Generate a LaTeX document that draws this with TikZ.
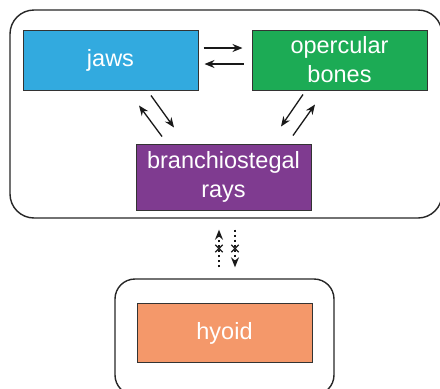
\documentclass[tikz,border=0pt]{standalone}
\usepackage{fontspec}
\setmainfont{Liberation Sans}
\usetikzlibrary{shapes,arrows.meta,positioning}

\definecolor{jawblue}{HTML}{32AADF}
\definecolor{opgreen}{HTML}{1CAB55}
\definecolor{brpurple}{HTML}{7F3B90}
\definecolor{hyorange}{HTML}{F4986A}

\begin{document}
\begin{tikzpicture}[x=1pt, y=-1pt,
    part/.style={rectangle, draw=black!80, line width=1pt, minimum width=175pt, minimum height=60pt, align=center, text=white, font=\fontsize{23.5}{29}\selectfont},
    group/.style={rectangle, draw=black!85, line width=1.4pt, rounded corners=24pt},
    arr/.style={-{Stealth[length=10pt,width=8pt]}, line width=1.3pt, black!90},
    blocked/.style={arr, dash pattern=on 2pt off 3pt},
    cross/.style={cross out, draw, solid, line width=1.3pt, minimum size=6pt, inner sep=0pt}
]
\useasboundingbox (0,0) rectangle (440,389);

% containers
\node[group, minimum width=432pt, minimum height=208pt] (head) at (226,114) {};
\node[group, minimum width=219pt, minimum height=116pt, rounded corners=20pt] (hyoidarch) at (224.5,337) {};

% bones
\node[part, fill=jawblue] (jaws) at (110.5,60) {jaws};
\node[part, fill=opgreen] (opercle) at (339.5,60) {opercular\\bones};
\node[part, fill=brpurple, minimum height=66pt] (branch) at (223.5,177) {branchiostegal\\rays};
\node[part, fill=hyorange, minimum height=59pt] (hyoid) at (224.5,333) {hyoid};

% links
\draw[arr] ([xshift=5pt, yshift=12pt]jaws.east) -- ([xshift=-9pt, yshift=12pt]opercle.west);
\draw[arr] ([xshift=-8pt, yshift=-4pt]opercle.west) -- ([xshift=6pt, yshift=-4pt]jaws.east);
\draw[arr] ([xshift=40.5pt, yshift=-5pt]jaws.south) -- ([xshift=-49.5pt, yshift=16pt]branch.north);
\draw[arr] ([xshift=-61.5pt, yshift=7pt]branch.north) -- ([xshift=28.5pt, yshift=-15pt]jaws.south);
\draw[arr] ([xshift=-36.5pt, yshift=-4pt]opercle.south) -- ([xshift=57.5pt, yshift=17pt]branch.north);
\draw[arr] ([xshift=69.5pt, yshift=8pt]branch.north) -- ([xshift=-24.5pt, yshift=-14pt]opercle.south);

% no link to hyoid
\draw[blocked] ([xshift=-5.5pt, yshift=11pt]hyoidarch.north) -- ([xshift=-7pt, yshift=-11pt]head.south)
    node[pos=0.5, cross] {};
\draw[blocked] ([xshift=9pt, yshift=-11pt]head.south) -- ([xshift=10.5pt, yshift=11pt]hyoidarch.north)
    node[pos=0.5, cross] {};

\end{tikzpicture}
\end{document}
